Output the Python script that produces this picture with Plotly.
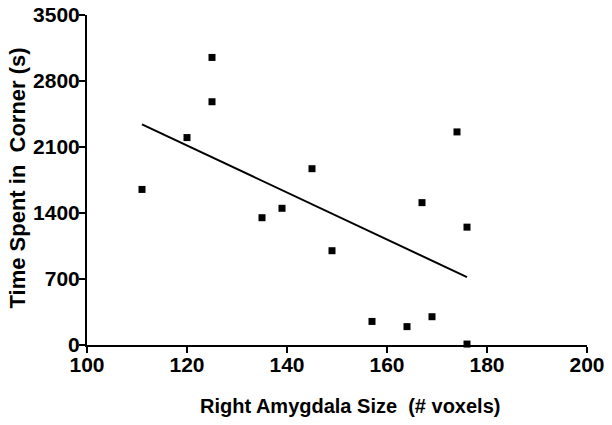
import plotly.graph_objects as go

# Data
amygdala_size = [111, 120, 125, 125, 135, 139, 145, 149, 157, 164, 169, 167, 174, 176, 176]
time_in_corner = [1650, 2200, 3050, 2580, 1350, 1450, 1870, 1000, 250, 195, 300, 1510, 2260, 1250, 10]
fit_x = [111, 176]
fit_y = [2340, 720]
x_ticks = [100, 120, 140, 160, 180, 200]
y_ticks = [0, 700, 1400, 2100, 2800, 3500]

FONT = "Arial, 'Liberation Sans', sans-serif"

fig = go.Figure()
fig.add_trace(go.Scatter(x=fit_x, y=fit_y, mode="lines",
                         line=dict(color="black", width=2), showlegend=False))
fig.add_trace(go.Scatter(x=amygdala_size, y=time_in_corner, mode="markers",
                         marker=dict(symbol="square", size=7, color="black"),
                         cliponaxis=False, showlegend=False))

axis_common = dict(showline=True, linecolor="black", linewidth=2,
                   ticks="outside", ticklen=6, tickwidth=2, tickcolor="black",
                   showgrid=False, zeroline=False, automargin=False,
                   ticklabeloverflow="allow",
                   tickfont=dict(family=FONT, size=21, color="black", weight="bold"))

fig.update_xaxes(range=[100, 200], tickvals=x_ticks, ticktext=[str(v) for v in x_ticks],
                 ticklabelstandoff=-6, **axis_common)
fig.update_yaxes(range=[0, 3500], tickvals=y_ticks, ticktext=[str(v) for v in y_ticks],
                 ticklabelstandoff=-5, **axis_common)

fig.add_annotation(text="Right Amygdala Size \u00a0(# voxels)", xref="paper", yref="paper",
                   x=0.526, y=-0.185, xanchor="center", yanchor="middle", showarrow=False,
                   font=dict(family=FONT, size=20, color="black", weight="bold"))
fig.add_annotation(text="Time Spent in \u00a0Corner (s)", xref="paper", yref="paper",
                   x=-0.138, y=0.5045, xanchor="center", yanchor="middle", showarrow=False,
                   textangle=-90,
                   font=dict(family=FONT, size=22, color="black", weight="bold"))

fig.update_layout(width=604, height=417, margin=dict(l=79, r=25, t=7, b=80, autoexpand=False),
                  plot_bgcolor="white", paper_bgcolor="white")

fig.write_html("out.html")
